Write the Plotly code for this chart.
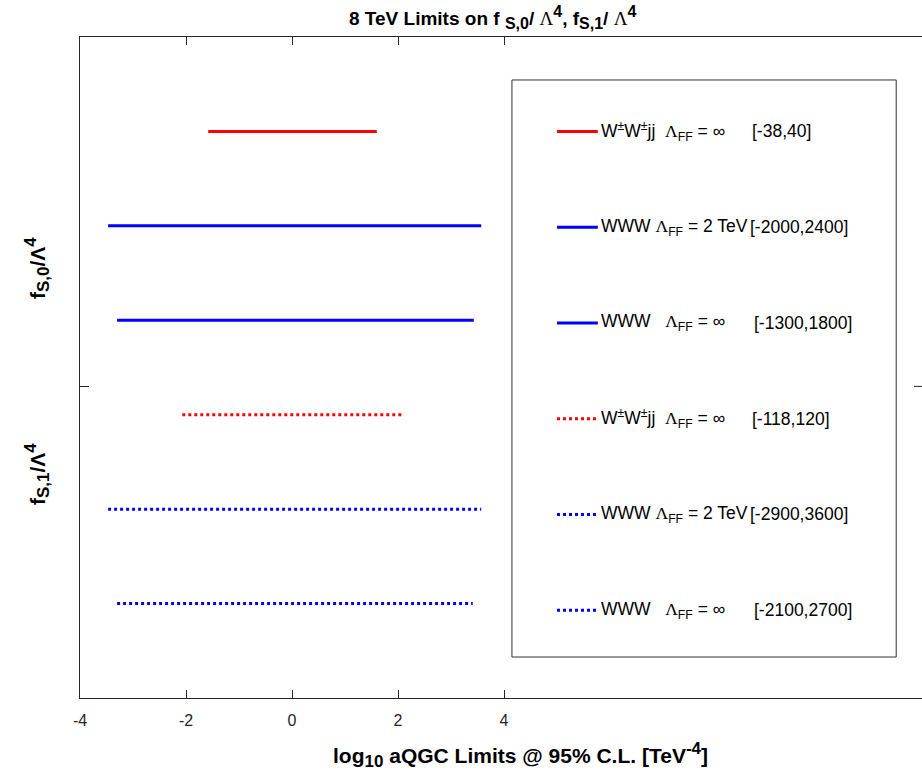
import plotly.graph_objects as go

# ---- data ----
rows = [6, 5, 4, 3, 2, 1]  # vertical slot of each limit bar
log_lo = [-1.58, -3.47, -3.30, -2.07, -3.47, -3.30]
log_hi = [1.60, 3.57, 3.43, 2.07, 3.57, 3.41]
colors = ["#FF0000", "#0000FF", "#0000FF", "#FF0000", "#0000FF", "#0000FF"]
dashes = ["solid", "solid", "solid", "3px,3px", "3px,3px", "3px,3px"]
LAM = "<span style='font-family:Liberation Serif, Times New Roman, serif'>Λ</span>"
labels = [
    "W<sup>±</sup>W<sup>±</sup>jj  " + LAM + "<sub>FF</sub> = ∞",
    "WWW " + LAM + "<sub>FF</sub> = 2 TeV",
    "WWW   " + LAM + "<sub>FF</sub> = ∞",
    "W<sup>±</sup>W<sup>±</sup>jj  " + LAM + "<sub>FF</sub> = ∞",
    "WWW " + LAM + "<sub>FF</sub> = 2 TeV",
    "WWW   " + LAM + "<sub>FF</sub> = ∞",
]
intervals = ["[-38,40]", "[-2000,2400]", "[-1300,1800]", "[-118,120]", "[-2900,3600]", "[-2100,2700]"]
interval_x = [8.64, 8.60, 8.68, 8.64, 8.60, 8.68]
xticks = [-4, -2, 0, 2, 4]

W, H = 922, 783
ml, mr, mt, mb = 80, 0, 37, 85
px_per_unit = 53.0
x_range = [-4, -4 + (W - ml - mr) / px_per_unit]
FONT = "Liberation Sans, Arial"
TXT = "#000000"

fig = go.Figure()
for lo, hi, r, c, d in zip(log_lo, log_hi, rows, colors, dashes):
    fig.add_trace(go.Scatter(x=[lo, hi], y=[r, r], mode="lines",
                             line=dict(color=c, width=3, dash=d),
                             showlegend=False, hoverinfo="skip"))

# legend box (manual, MATLAB style)
box_x0, box_x1, box_y0, box_y1 = 4.15, 11.40, 0.434, 6.545
fig.add_shape(type="rect", xref="x", yref="y", x0=box_x0, x1=box_x1, y0=box_y0, y1=box_y1,
              line=dict(color="#333333", width=1), fillcolor="rgba(0,0,0,0)")
leg_top, leg_step = 6.0, (6.0 - 0.93) / 5
for i, (lab, iv, ivx, c, d) in enumerate(zip(labels, intervals, interval_x, colors, dashes)):
    yy = leg_top - i * leg_step
    fig.add_shape(type="line", xref="x", yref="y", x0=5.0, x1=5.77, y0=yy, y1=yy,
                  line=dict(color=c, width=3, dash=d))
    fig.add_annotation(x=5.80, y=yy, xref="x", yref="y", text=lab, showarrow=False,
                       xanchor="left", yanchor="middle",
                       font=dict(family=FONT, size=17.5, color=TXT))
    fig.add_annotation(x=ivx, y=yy, xref="x", yref="y", text=iv, showarrow=False,
                       xanchor="left", yanchor="middle",
                       font=dict(family=FONT, size=17.5, color=TXT))

# small tick on the (off-screen) right axis
fig.add_shape(type="line", xref="paper", yref="y", x0=1.0, x1=1.0 - 8 / (W - ml - mr),
              y0=3.3, y1=3.3, line=dict(color="#262626", width=1))

plot_w = W - ml - mr
plot_h = H - mt - mb


def px(xp):
    return (xp - ml) / plot_w


def py(yp):
    return (H - mb - yp) / plot_h


SUB = "<sub><span style='font-size:17px'>{}</span></sub>"
SUP = "<sup><span style='font-size:17px'>{}</span></sup>"

# y labels
for txt, yv in [("f" + SUB.format("S,0") + "/Λ" + SUP.format("4"), 268),
                ("f" + SUB.format("S,1") + "/Λ" + SUP.format("4"), 474)]:
    fig.add_annotation(x=px(37), y=py(yv), xref="paper", yref="paper", text="<b>" + txt + "</b>",
                       showarrow=False, textangle=-90,
                       font=dict(family=FONT, size=21, color=TXT),
                       xanchor="center", yanchor="middle")

# x axis title
fig.add_annotation(x=px(520), y=py(755), xref="paper", yref="paper",
                   text="<b>log<sub><span style='font-size:17px'>10</span></sub> aQGC Limits @ 95% C.L. [TeV"
                        "<sup><span style='font-size:17px'>-4</span></sup>]</b>",
                   showarrow=False, xanchor="center", yanchor="middle",
                   font=dict(family=FONT, size=21, color=TXT))

# title
TL = "<span style='font-family:Liberation Serif, Times New Roman, serif;font-weight:normal'>Λ</span>"
fig.add_annotation(x=px(492), y=py(18), xref="paper", yref="paper",
                   text="<b>8 TeV Limits on f <sub><span style='font-size:16px'>S,0</span></sub>/ " + TL +
                        "<sup><span style='font-size:16px'>4</span></sup>, f"
                        "<sub><span style='font-size:16px'>S,1</span></sub>/ " + TL +
                        "<sup><span style='font-size:16px'>4</span></sup></b>",
                   showarrow=False, xanchor="center", yanchor="middle",
                   font=dict(family=FONT, size=19, color=TXT))

fig.update_layout(
    width=W, height=H,
    margin=dict(l=ml, r=mr, t=mt, b=mb),
    paper_bgcolor="white", plot_bgcolor="white",
    showlegend=False,
    xaxis=dict(range=x_range, tickvals=xticks, ticktext=[str(v) for v in xticks],
               showgrid=False, zeroline=False, showline=True, mirror="ticks",
               linecolor="#262626", linewidth=1, ticks="inside", ticklen=8, tickcolor="#262626",
               ticklabelstandoff=8,
               tickfont=dict(family=FONT, size=16, color="#262626")),
    yaxis=dict(range=[0, 7], tickvals=[3.3], ticktext=[""], showgrid=False, zeroline=False,
               showline=True, mirror=False, linecolor="#262626", linewidth=1,
               ticks="inside", ticklen=9, tickcolor="#262626", showticklabels=False),
)

fig.write_html("out.html", config={"displayModeBar": False},
               post_script="document.body.style.margin='0';document.body.style.overflow='hidden';")
